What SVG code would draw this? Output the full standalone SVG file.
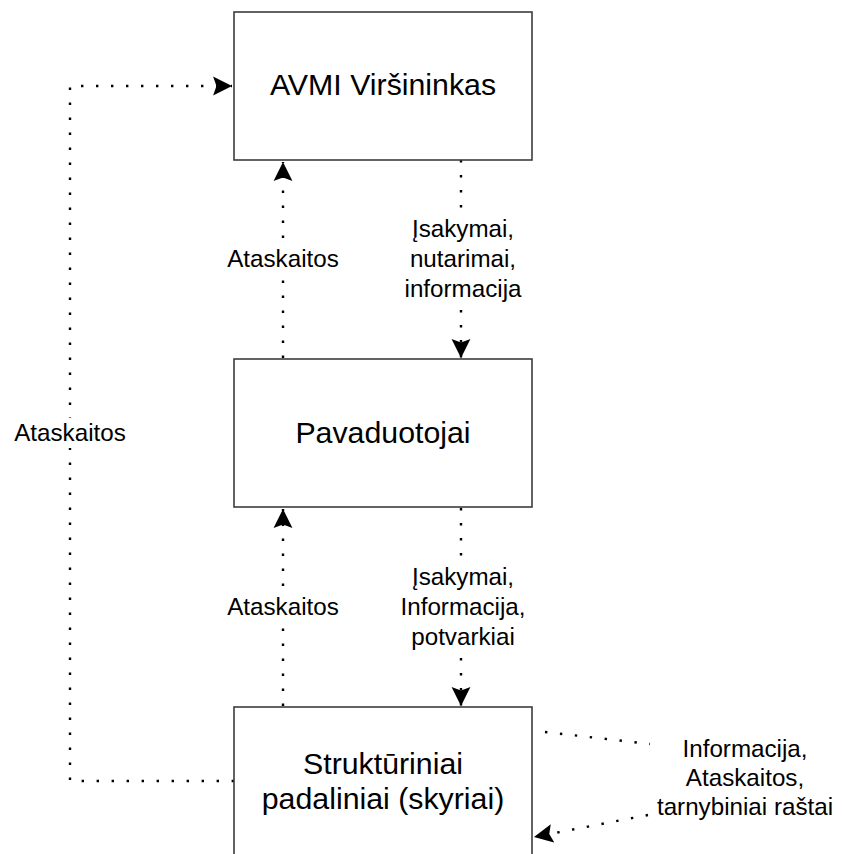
<svg xmlns="http://www.w3.org/2000/svg" width="842" height="854" viewBox="0 0 842 854">
  <style>
    .box { fill: #ffffff; stroke: #3c3c3c; stroke-width: 1.6; }
    .title { font-family: "Liberation Sans", Arial, sans-serif; font-size: 30.3px; fill: #000; text-anchor: middle; }
    .lbl { font-family: "Liberation Sans", Arial, sans-serif; font-size: 24.2px; fill: #000; text-anchor: middle; }
    .dot { fill: none; stroke: #000; stroke-width: 2.4; stroke-dasharray: 2.4 12.6; }
    .mask { fill: #ffffff; }
  </style>
  <defs>
    <marker id="arrow" markerUnits="userSpaceOnUse" markerWidth="20" markerHeight="20" viewBox="0 -9 18 18" refX="17" refY="0" orient="auto">
      <path d="M0,-8.5 L17,0 L0,8.5 L3,0 Z" fill="#000"/>
    </marker>
  </defs>
  <rect width="842" height="854" fill="#ffffff"/>

  <!-- connectors -->
  <g id="connectors">
    <!-- reports from departments straight to the head -->
    <path class="dot" d="M234,781 H70 V86 H232" marker-end="url(#arrow)"/>
    <!-- reports up -->
    <path class="dot" d="M283,358 V162" marker-end="url(#arrow)"/>
    <path class="dot" d="M283,706 V509" marker-end="url(#arrow)"/>
    <!-- orders down -->
    <path class="dot" d="M461,160 V358" marker-end="url(#arrow)"/>
    <path class="dot" d="M461,508 V706" marker-end="url(#arrow)"/>
    <!-- departments self exchange -->
    <path class="dot" d="M545,732 L650,744"/>
    <path class="dot" d="M648,815 L534,837" marker-end="url(#arrow)"/>

    <!-- label backgrounds and labels -->
    <rect class="mask" x="6" y="418" width="128" height="30"/>
    <text class="lbl" x="70" y="441">Ataskaitos</text>

    <rect class="mask" x="218" y="244" width="130" height="30"/>
    <text class="lbl" x="283" y="267">Ataskaitos</text>

    <rect class="mask" x="218" y="592" width="130" height="30"/>
    <text class="lbl" x="283" y="615">Ataskaitos</text>

    <rect class="mask" x="400" y="212" width="126" height="92"/>
    <text class="lbl" x="463" y="237">Įsakymai,</text>
    <text class="lbl" x="463" y="267">nutarimai,</text>
    <text class="lbl" x="463" y="297">informacija</text>

    <rect class="mask" x="396" y="560" width="134" height="92"/>
    <text class="lbl" x="463" y="585">Įsakymai,</text>
    <text class="lbl" x="463" y="615">Informacija,</text>
    <text class="lbl" x="463" y="645">potvarkiai</text>

    <text class="lbl" x="745" y="757">Informacija,</text>
    <text class="lbl" x="745" y="786">Ataskaitos,</text>
    <text class="lbl" x="745" y="815">tarnybiniai raštai</text>
  </g>

  <!-- nodes -->
  <g id="node-head">
    <rect class="box" x="234" y="12" width="298" height="148"/>
    <text class="title" x="383" y="95">AVMI Viršininkas</text>
  </g>
  <g id="node-deputies">
    <rect class="box" x="234" y="359" width="298" height="148"/>
    <text class="title" x="383" y="443">Pavaduotojai</text>
  </g>
  <g id="node-departments">
    <rect class="box" x="234" y="707" width="298" height="170"/>
    <text class="title" x="383" y="774">Struktūriniai</text>
    <text class="title" x="383" y="809">padaliniai (skyriai)</text>
  </g>
</svg>
